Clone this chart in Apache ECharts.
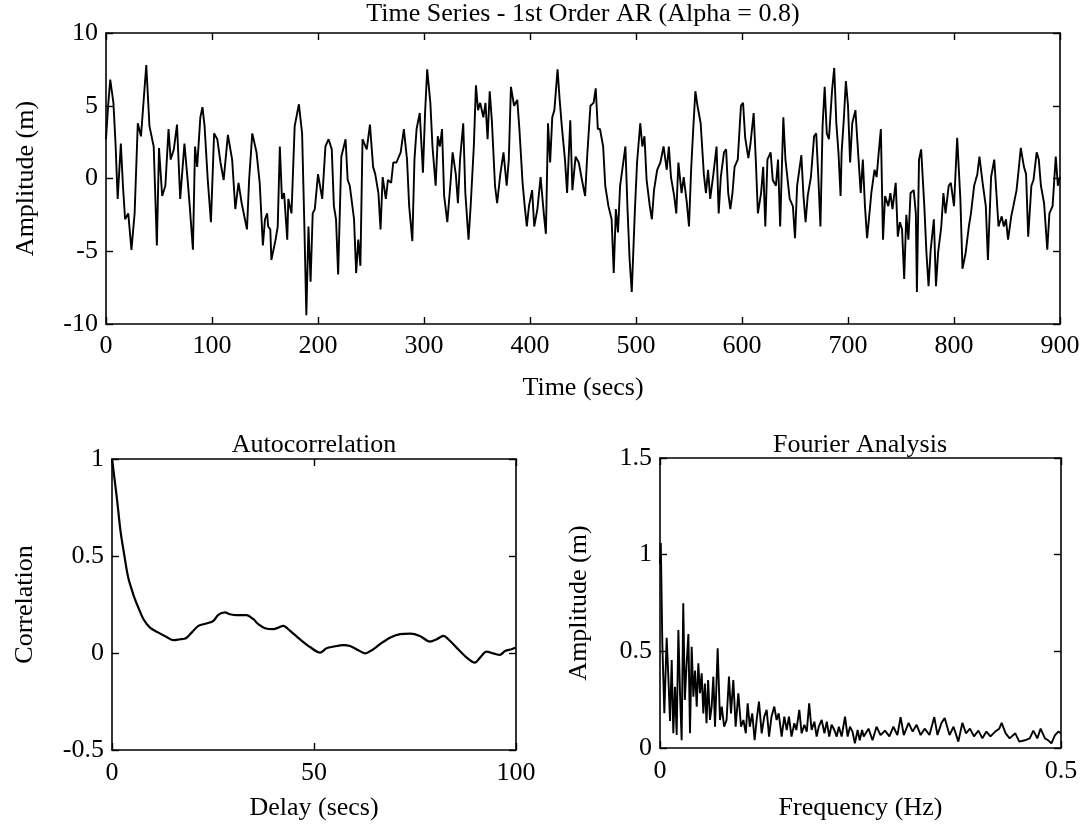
<!DOCTYPE html>
<html>
<head>
<meta charset="utf-8">
<script src="https://cdn.jsdelivr.net/npm/echarts@6/dist/echarts.min.js"></script>
<style>html,body{margin:0;padding:0;background:#fff}#c{width:1085px;height:831px}</style>
</head>
<body>
<div id="c"></div>
<script>
// ---- Top panel: time series (secs, m)
const tsTime = [0,2,4,7,9,11,14,16,18,21,24,27,30,33,38,41,45,48,50,53,56,59,61,64,67,70,74,77,79,82,84,86,89,91,93,96,99,102,105,108,111,115,119,122,125,128,133,135,138,142,145,148,150,152,153,155,156,160,162,164,166,168,171,172,175,178,182,185,187,189,191,193,195,197,200,204,207,210,213,215,217,219,222,226,228,230,234,236,238,240,242,246,249,252,254,257,259,261,264,266,269,271,274,278,281,284,286,289,291,293,296,299,301,303,306,308,311,313,315,317,319,322,325,327,330,332,334,337,339,342,344,347,349,351,353,356,358,360,362,364,367,369,372,375,378,380,382,385,388,390,393,395,397,399,402,404,407,410,413,415,417,419,421,423,426,428,430,433,435,438,440,443,446,449,452,454,457,460,462,464,466,469,471,474,477,479,481,483,485,488,490,492,494,496,499,501,504,506,508,510,513,515,517,520,523,526,529,531,533,536,538,540,543,545,548,550,552,554,556,558,561,564,566,568,570,573,576,578,580,583,585,587,589,591,593,596,599,601,603,606,608,611,613,615,618,620,622,624,627,629,632,634,636,639,641,645,648,650,652,656,658,660,662,665,668,670,672,674,676,678,680,682,685,687,689,691,693,694,696,698,700,702,704,707,709,712,714,716,718,720,722,725,727,729,731,733,735,738,740,742,745,747,749,751,753,755,757,759,762,764,765,767,769,772,774,776,778,781,783,785,788,790,792,795,797,800,803,806,808,811,814,816,819,822,824,827,830,832,835,838,840,842,845,847,849,851,854,856,859,861,863,866,868,870,873,875,878,880,882,885,888,890,893,896,898,900];
const tsAmp = [2.7,5.0,6.8,5.2,2.4,-1.4,2.4,-0.5,-2.8,-2.4,-4.9,-2.4,3.8,2.9,7.8,3.6,2.2,-4.6,2.1,-1.2,-0.5,3.4,1.3,2.0,3.7,-1.4,2.4,-0.1,-1.9,-4.9,2.2,0.8,4.2,4.9,3.6,-0.1,-3.0,3.1,2.7,1.1,-0.1,3.0,1.3,-2.1,-0.3,-1.7,-3.5,-0.1,3.1,1.8,-0.3,-4.6,-2.8,-2.4,-3.3,-3.5,-5.6,-4.2,-3.3,2.2,-1.4,-1.0,-4.2,-1.4,-2.4,3.6,5.1,3.1,-2.8,-9.4,-3.3,-7.1,-2.4,-2.1,0.3,-1.4,2.2,2.7,2.0,-1.9,-2.8,-6.6,1.5,2.7,-0.1,-0.5,-2.8,-6.5,-4.2,-6.0,2.7,2.0,3.7,0.8,0.3,-1.0,-3.5,0.1,-1.4,-0.1,-0.3,1.1,1.1,1.8,3.4,1.3,-1.9,-4.3,1.3,3.4,4.5,0.4,4.5,7.5,5.2,2.2,-0.5,2.9,2.2,3.4,-1.2,-3.0,-0.3,1.8,0.3,-1.7,1.3,3.8,-1.0,-4.2,-1.9,2.2,6.4,4.7,5.2,4.2,5.2,2.7,6.0,4.0,-0.5,-1.7,0.3,1.8,-0.5,1.3,6.3,5.0,5.4,3.4,-0.3,-1.9,-3.3,-1.9,-0.8,-3.3,-2.1,0.1,-2.4,-3.8,3.8,1.1,4.2,4.7,7.5,5.4,3.6,1.3,-1.0,4.0,-0.8,1.5,1.1,-0.1,-1.2,1.6,5.0,5.2,6.2,3.4,3.4,2.2,-0.5,-1.9,-2.8,-6.5,-2.1,-3.7,-0.5,1.1,2.2,-2.1,-5.6,-7.8,-2.1,1.1,3.8,2.2,2.9,-0.1,-1.9,-2.8,-0.8,0.6,1.1,2.2,0.6,2.2,0.1,-1.2,-2.4,1.1,-1.0,0.1,-1.7,-3.3,0.6,3.4,6.0,5.0,3.8,0.3,-1.0,0.6,-1.4,0.3,2.2,-2.4,0.1,1.8,2.0,-1.0,-2.1,-1.0,0.8,1.3,5.0,5.2,2.8,1.4,2.4,4.5,1.3,-2.4,-1.0,0.8,-3.3,1.3,1.8,-0.1,-0.5,1.3,-3.3,4.2,1.3,-1.4,-1.9,-4.1,-0.5,1.6,-1.2,-3.0,-1.2,0.1,2.9,3.1,0.1,-3.3,3.6,6.3,3.1,2.7,6.1,7.6,3.8,1.8,-1.2,1.8,4.0,6.7,5.0,1.1,3.8,4.7,2.4,-1.0,1.3,-1.9,-4.1,-2.6,-1.0,0.6,0.1,1.8,3.4,-4.2,-1.2,-1.9,-1.0,-2.1,-0.3,-4.0,-3.0,-3.5,-6.9,-2.5,-4.2,-1.0,-0.8,-2.4,-7.8,1.3,2.0,-1.9,-5.1,-7.4,-4.9,-2.8,-7.4,-5.1,-3.3,-1.0,-2.4,-0.5,-0.3,-1.9,2.8,-1.4,-6.2,-5.1,-3.3,-2.4,-0.5,0.3,1.5,-0.3,-1.9,-5.6,0.1,1.3,-1.0,-3.3,-2.6,-3.3,-2.8,-4.2,-2.6,-1.9,-0.8,0.6,2.1,0.8,0.3,-4.0,-0.5,-0.1,1.8,1.3,-0.5,-1.7,-4.9,-2.4,-1.9,1.5,-0.5,0.1];

// ---- Bottom-left: autocorrelation
const acDelay = [0,1.2,2.1,3,4,5.3,6.5,7.8,9.4,11.5,13.5,15.2,16.8,18.3,19.7,21.4,23.4,25.1,26.3,28,29.2,30.9,33.3,35,36.2,37.9,39.9,41.2,42.4,44.1,46.5,49,51.5,53.1,54.8,57.3,58.9,61,62.6,64.3,66.3,68.8,71.3,73.8,76.2,78.7,80.4,82,83.7,85.7,87.8,89.8,91.1,92.7,94.4,96,97.3,98.9,100];
const acCorr = [1.0,0.80,0.63,0.51,0.39,0.30,0.235,0.174,0.131,0.105,0.083,0.066,0.071,0.076,0.105,0.14,0.152,0.166,0.197,0.209,0.2,0.195,0.195,0.174,0.149,0.128,0.123,0.131,0.14,0.114,0.071,0.031,0.002,0.024,0.033,0.041,0.036,0.014,-0.002,0.014,0.045,0.079,0.097,0.1,0.088,0.059,0.071,0.088,0.062,0.019,-0.024,-0.05,-0.024,0.007,-0.002,-0.01,0.01,0.019,0.028];

// ---- Bottom-right: Fourier amplitude
const ftFreq = [0,0.001,0.0029,0.0054,0.0083,0.0104,0.0125,0.0146,0.0166,0.0187,0.0208,0.0229,0.025,0.027,0.029,0.031,0.033,0.0354,0.0374,0.0395,0.0416,0.0437,0.0458,0.0478,0.0499,0.052,0.054,0.056,0.058,0.060,0.0623,0.0644,0.0665,0.0686,0.0719,0.0748,0.077,0.080,0.083,0.086,0.0885,0.0914,0.0943,0.0977,0.101,0.104,0.107,0.1093,0.112,0.115,0.118,0.1205,0.1234,0.1268,0.130,0.133,0.136,0.139,0.1425,0.1454,0.148,0.1517,0.155,0.158,0.1608,0.164,0.1675,0.170,0.1737,0.1766,0.180,0.183,0.186,0.189,0.1925,0.1953,0.198,0.2016,0.205,0.208,0.211,0.214,0.2174,0.2203,0.223,0.2265,0.2307,0.234,0.2369,0.240,0.243,0.2464,0.249,0.252,0.254,0.26,0.265,0.27,0.275,0.2805,0.286,0.291,0.296,0.300,0.304,0.31,0.315,0.32,0.325,0.33,0.336,0.342,0.346,0.351,0.355,0.361,0.366,0.372,0.377,0.3815,0.3865,0.3915,0.397,0.402,0.407,0.412,0.418,0.423,0.426,0.431,0.436,0.443,0.448,0.455,0.461,0.4655,0.4705,0.4746,0.48,0.484,0.488,0.4925,0.4967,0.4996];
const ftAmp = [0.95,1.06,0.54,0.18,0.57,0.37,0.14,0.455,0.076,0.317,0.067,0.61,0.28,0.04,0.749,0.248,0.42,0.59,0.076,0.524,0.265,0.40,0.214,0.438,0.283,0.386,0.179,0.334,0.128,0.352,0.145,0.214,0.369,0.11,0.516,0.145,0.214,0.11,0.145,0.369,0.179,0.352,0.11,0.283,0.11,0.145,0.076,0.231,0.11,0.179,0.04,0.145,0.24,0.076,0.162,0.197,0.059,0.162,0.214,0.145,0.179,0.059,0.162,0.093,0.162,0.059,0.128,0.093,0.197,0.076,0.12,0.085,0.231,0.093,0.136,0.059,0.11,0.145,0.076,0.136,0.059,0.12,0.093,0.059,0.11,0.059,0.162,0.059,0.11,0.085,0.024,0.093,0.04,0.093,0.06,0.10,0.04,0.11,0.067,0.09,0.06,0.11,0.067,0.16,0.067,0.13,0.085,0.12,0.067,0.10,0.067,0.16,0.067,0.13,0.155,0.067,0.11,0.033,0.13,0.076,0.10,0.06,0.09,0.05,0.085,0.06,0.085,0.10,0.13,0.076,0.05,0.076,0.033,0.04,0.05,0.09,0.05,0.10,0.05,0.04,0.024,0.067,0.085,0.076];

// ---- Text
const mainTitle = 'Time Series - 1st Order AR (Alpha = 0.8)';
const acTitle = 'Autocorrelation';
const ftTitle = 'Fourier Analysis';
const tsXName = 'Time (secs)', tsYName = 'Amplitude (m)';
const acXName = 'Delay (secs)', acYName = 'Correlation';
const ftXName = 'Frequency (Hz)', ftYName = 'Amplitude (m)';

const FONT = 'Liberation Serif';
const FS = 26;
const black = '#000';

function axisBase(extra, lm) {
  return Object.assign({
    type: 'value',
    axisLine: { show: true, onZero: false, lineStyle: { color: black, width: 1.6 } },
    axisTick: { show: true, inside: true, length: 7, lineStyle: { color: black, width: 1.4 } },
    splitLine: { show: false },
    axisLabel: { color: black, fontFamily: FONT, fontSize: FS, margin: lm },
    nameTextStyle: { color: black, fontFamily: FONT, fontSize: FS },
    nameLocation: 'middle'
  }, extra);
}
function mirror(ax, pos) {
  return Object.assign({}, ax, { position: pos, name: '', axisLabel: { show: false } });
}

const x0 = axisBase({ gridIndex: 0, min: 0, max: 900, interval: 100, name: tsXName, nameGap: 51 }, 9);
const y0 = axisBase({ gridIndex: 0, min: -10, max: 10, interval: 5, name: tsYName, nameGap: 67 }, 8);
const x1 = axisBase({ gridIndex: 1, min: 0, max: 100, interval: 50, name: acXName, nameGap: 45 }, 10);
const y1 = axisBase({ gridIndex: 1, min: -0.5, max: 1, interval: 0.5, name: acYName, nameGap: 74 }, 8);
const x2 = axisBase({ gridIndex: 2, min: 0, max: 0.5, interval: 0.5, name: ftXName, nameGap: 47 }, 10);
const y2 = axisBase({ gridIndex: 2, min: 0, max: 1.5, interval: 0.5, name: ftYName, nameGap: 68 }, 8);

const titleStyle = { color: black, fontFamily: FONT, fontSize: FS, fontWeight: 'normal' };
const option = {
  animation: false,
  backgroundColor: '#fff',
  title: [
    { text: mainTitle, left: 583, top: 1, textAlign: 'center', padding: 0, textStyle: titleStyle },
    { text: acTitle, left: 314, top: 432, textAlign: 'center', padding: 0, textStyle: titleStyle },
    { text: ftTitle, left: 860, top: 432, textAlign: 'center', padding: 0, textStyle: titleStyle }
  ],
  grid: [
    { left: 106, top: 33, width: 954, height: 291 },
    { left: 112, top: 459, width: 404, height: 291 },
    { left: 660, top: 458, width: 401, height: 290 }
  ],
  xAxis: [x0, mirror(x0, 'top'), x1, mirror(x1, 'top'), x2, mirror(x2, 'top')],
  yAxis: [y0, mirror(y0, 'right'), y1, mirror(y1, 'right'), y2, mirror(y2, 'right')],
  series: [
    { type: 'line', xAxisIndex: 0, yAxisIndex: 0, showSymbol: false, lineStyle: { color: black, width: 1.9 },
      data: tsTime.map((t, i) => [t, tsAmp[i]]) },
    { type: 'line', xAxisIndex: 2, yAxisIndex: 2, showSymbol: false, smooth: 0.3, lineStyle: { color: black, width: 2.2 },
      data: acDelay.map((d, i) => [d, acCorr[i]]) },
    { type: 'line', xAxisIndex: 4, yAxisIndex: 4, showSymbol: false, lineStyle: { color: black, width: 1.9 },
      data: ftFreq.map((f, i) => [f, ftAmp[i]]) }
  ]
};
const chart = echarts.init(document.getElementById('c'), null, { renderer: 'canvas' });
chart.setOption(option);
</script>
</body>
</html>
